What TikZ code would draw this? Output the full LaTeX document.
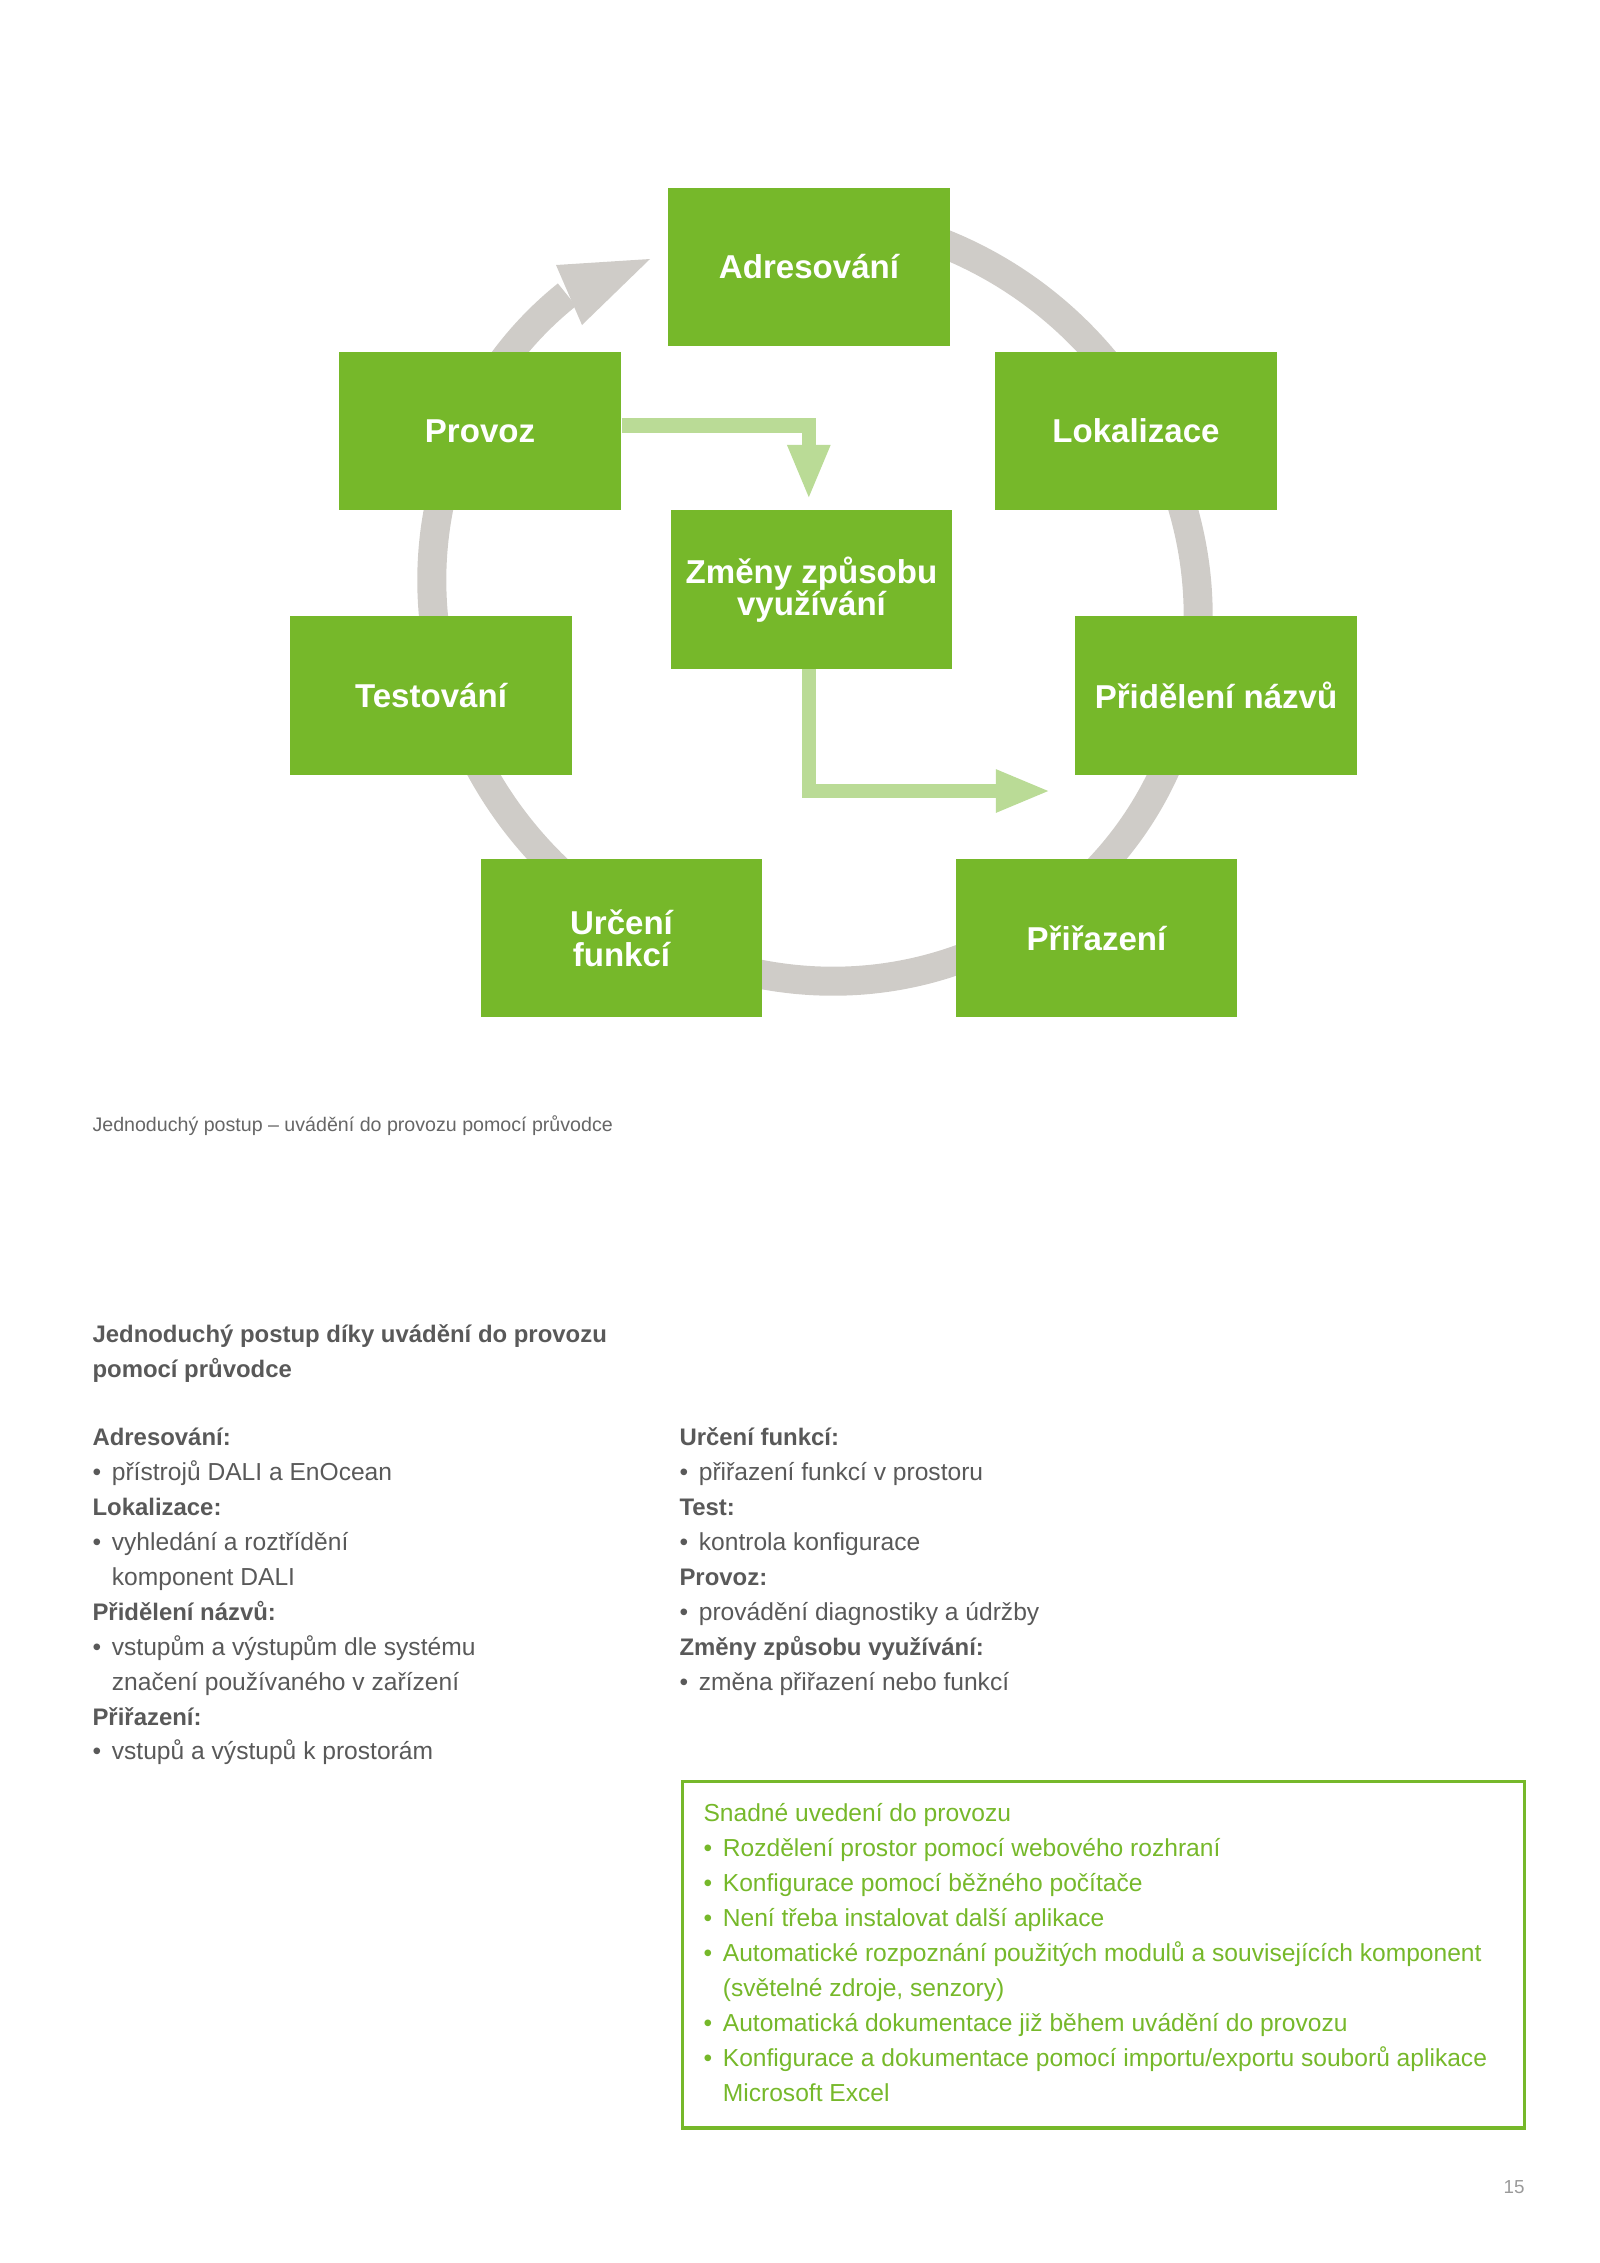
\documentclass[tikz,border=0pt]{standalone}
\usepackage{fontspec}
\setmainfont{Liberation Sans}
\usetikzlibrary{arrows.meta}

\definecolor{stagegreen}{HTML}{76B82A}
\definecolor{flowgreen}{HTML}{BADB96}
\definecolor{ringgray}{HTML}{CFCCC8}
\definecolor{textgray}{HTML}{595959}
\definecolor{capgray}{HTML}{666666}
\definecolor{pagegray}{HTML}{9A9A9A}

\newcommand{\bulletmark}{\makebox[7.2pt][l]{•}}
\newcommand{\hangmark}{\hspace*{7.2pt}}
\newcommand{\termname}[1]{{\fontsize{8.9}{13}\selectfont\bfseries #1}}

\begin{document}
\begin{tikzpicture}[x=0.37205pt,y=0.37205pt,
  stage/.style={fill=stagegreen,text=white,minimum width=104.9pt,minimum height=58.8pt,
    inner sep=0pt,align=center,font=\bfseries\fontsize{12.3}{12}\selectfont},
  flow/.style={draw=flowgreen,line width=5.4pt,-{Triangle[length=20.5pt,width=14.5pt]}},
  body/.style={text=textgray,inner sep=0pt,align=left,anchor=north west,
    font=\fontsize{9.15}{13}\selectfont}]
\useasboundingbox (0,0) rectangle (1600,-2263);

% ring with arrow
\begin{scope}[shift={(815,-598)},rotate=-45]
\draw[ringgray,line width=10.8pt] (118:392 and 374)
  arc[start angle=118,end angle=-186,x radius=392,y radius=374];
\end{scope}
\fill[ringgray] (556,-265) -- (650,-259) -- (582,-325) -- cycle;

% stages
\node[stage] (adresovani) at (809,-267) {Adresování};
\node[stage] (provoz) at (480,-431) {Provoz};
\node[stage] (lokalizace) at (1136,-431) {Lokalizace};
\node[stage] (zmeny) at (811.5,-589.5) {Změny způsobu\\využívání};
\node[stage] (testovani) at (431,-695.5) {Testování};
\node[stage] (prideleni) at (1216,-695.5) {Přidělení názvů};
\node[stage] (urceni) at (621.5,-938) {Určení\\funkcí};
\node[stage] (prirazeni) at (1096.5,-938) {Přiřazení};

% changes of use
\coordinate (flowend) at (1051,-791);
\draw[flow,shorten >=3.7pt] ([yshift=2pt]provoz.east) -| ([xshift=-1pt]zmeny.north);
\draw[flow] ([xshift=-1pt]zmeny.south) |- (flowend);

\node[text=capgray,inner sep=0pt,anchor=base west,font=\fontsize{7.3}{9}\selectfont]
  (caption) at (92,-1131) {Jednoduchý postup – uvádění do provozu pomocí průvodce};

\node[body,font=\bfseries\fontsize{8.9}{13}\selectfont] (heading) at (92,-1317.5)
  {\strut Jednoduchý postup díky uvádění do provozu\\pomocí průvodce};

\node[body] (leftcol) at (92,-1420.5) {\strut\termname{Adresování:}\\
  \bulletmark přístrojů DALI a EnOcean\\
  \termname{Lokalizace:}\\
  \bulletmark vyhledání a roztřídění\\
  \hangmark komponent DALI\\
  \termname{Přidělení názvů:}\\
  \bulletmark vstupům a výstupům dle systému\\
  \hangmark značení používaného v zařízení\\
  \termname{Přiřazení:}\\
  \bulletmark vstupů a výstupů k prostorám};

\node[body] (rightcol) at (679,-1420.5) {\strut\termname{Určení funkcí:}\\
  \bulletmark přiřazení funkcí v prostoru\\
  \termname{Test:}\\
  \bulletmark kontrola konfigurace\\
  \termname{Provoz:}\\
  \bulletmark provádění diagnostiky a údržby\\
  \termname{Změny způsobu využívání:}\\
  \bulletmark změna přiřazení nebo funkcí};

% summary box
\node[draw=stagegreen,line width=1.2pt,minimum width=313.3pt,minimum height=129pt,
  inner sep=0pt,anchor=north west] (snadnebox) at (680.6,-1779.6) {};
\node[body,text=stagegreen] (snadne) at (703,-1796.5) {\strut Snadné uvedení do provozu\\
  \bulletmark Rozdělení prostor pomocí webového rozhraní\\
  \bulletmark Konfigurace pomocí běžného počítače\\
  \bulletmark Není třeba instalovat další aplikace\\
  \bulletmark Automatické rozpoznání použitých modulů a souvisejících komponent\\
  \hangmark (světelné zdroje, senzory)\\
  \bulletmark Automatická dokumentace již během uvádění do provozu\\
  \bulletmark Konfigurace a dokumentace pomocí importu/exportu souborů aplikace\\
  \hangmark Microsoft Excel};

\node[text=pagegray,inner sep=0pt,anchor=base east,font=\fontsize{7}{9}\selectfont]
  (pagenum) at (1525,-2193) {15};
\end{tikzpicture}
\end{document}
